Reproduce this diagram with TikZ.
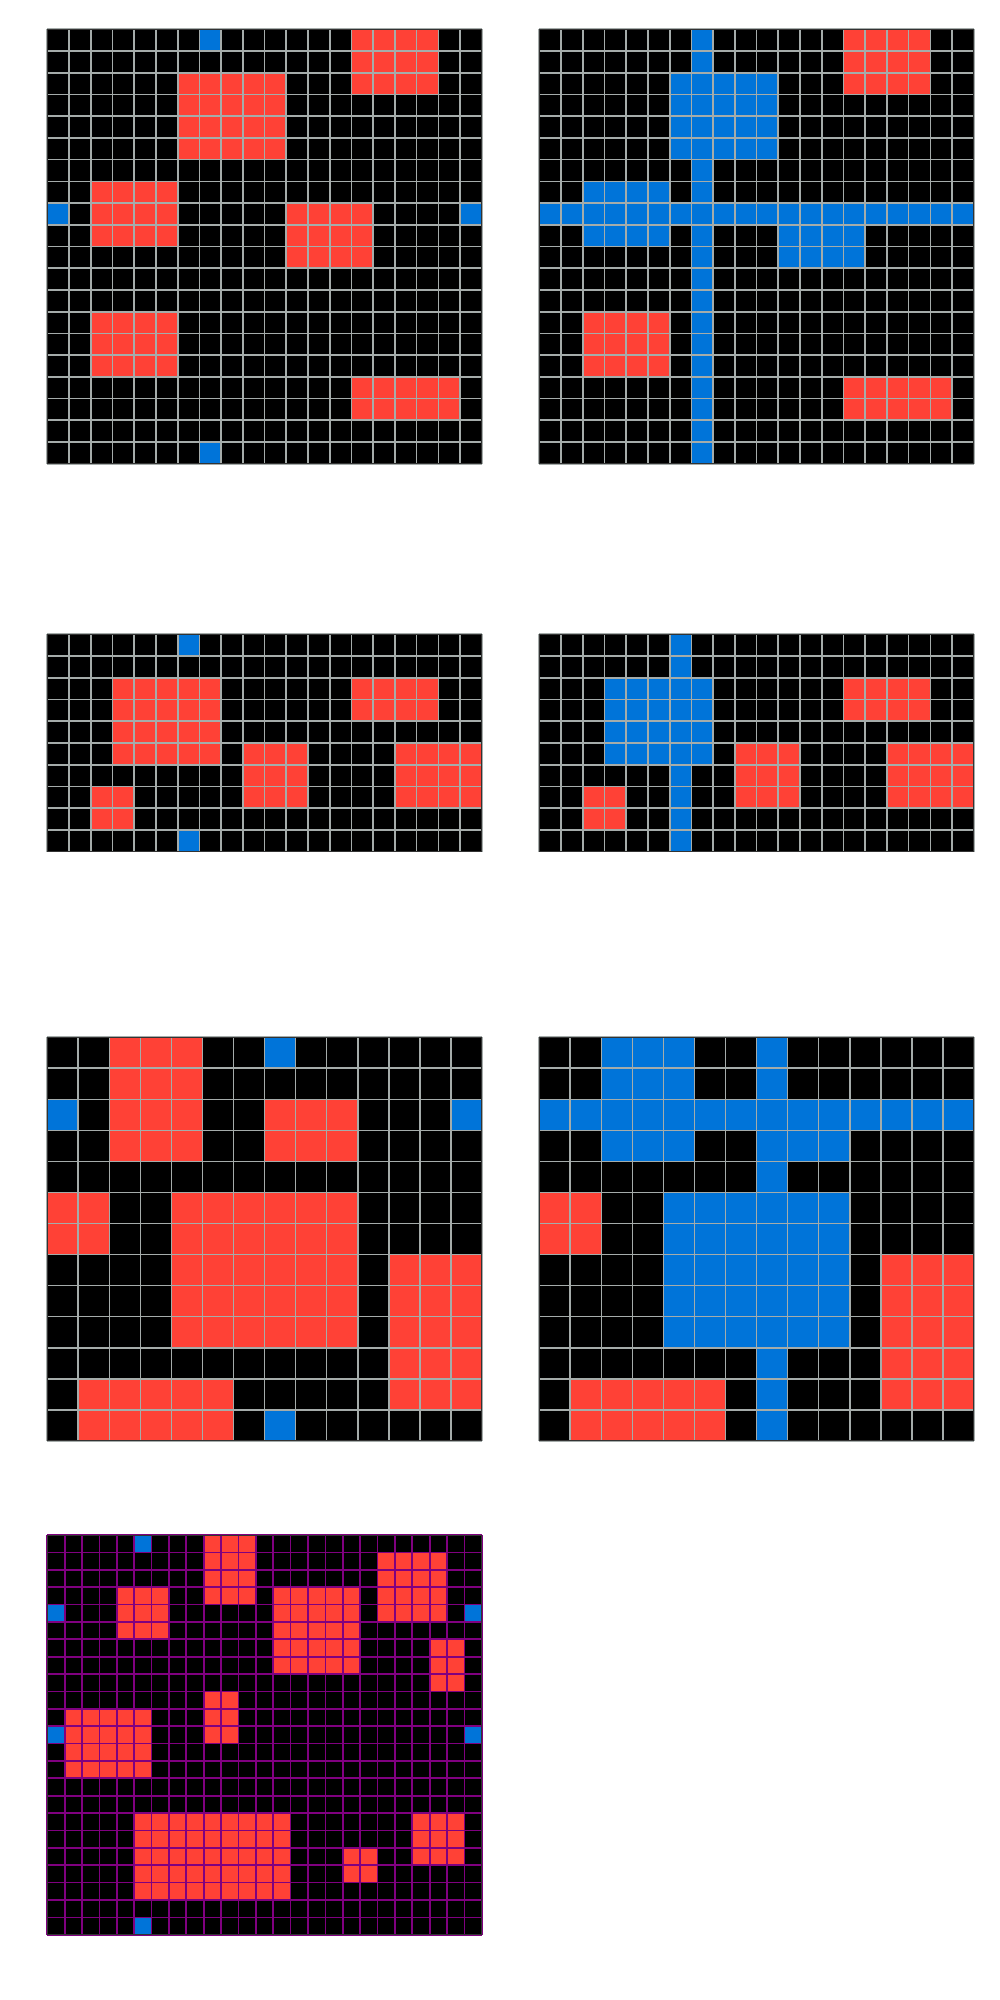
\documentclass[tikz,border=0pt]{standalone}
\usepackage{tikz}
\definecolor{arcblue}{RGB}{0,116,217}
\definecolor{arcred}{RGB}{255,65,54}
\definecolor{arcgray}{RGB}{165,172,170}
\definecolor{arcpurple}{RGB}{128,0,128}
\tikzset{
  gridat/.style n args={3}{shift={(#1,#2)}, x=#3*0.5pt, y=-#3*0.5pt},
  gl/.style={draw=arcgray, line width=0.85pt},
  glp/.style={draw=arcpurple, line width=0.85pt},
  edge/.style={draw=black!80, line width=0.4pt},
  redcell/.style={fill=arcred},
  bluecell/.style={fill=arcblue},
}
\newcommand\arcgridlines[3]{%
  \foreach \i in {0,...,#1} \draw[#3] (\i,0) -- (\i,#2);
  \foreach \j in {0,...,#2} \draw[#3] (0,\j) -- (#1,\j);
  \draw[edge] (0,0) rectangle (#1,#2);
}
\begin{document}
\begin{tikzpicture}[x=0.5pt,y=-0.5pt]
\useasboundingbox[fill=white] (0,0) rectangle (1000,2000);

% Grid 1
\begin{scope}[gridat={47.3}{29.3}{21.725}]
  \fill[black] (0,0) rectangle (20,20);
  \foreach \c/\r/\w/\h in {14/0/4/3, 6/2/5/4, 2/7/4/3, 11/8/4/3, 2/13/4/3, 14/16/5/2}
    \fill[redcell] (\c,\r) rectangle ++(\w,\h);
  \foreach \c/\r/\w/\h in {7/0/1/1, 7/19/1/1, 0/8/1/1, 19/8/1/1}
    \fill[bluecell] (\c,\r) rectangle ++(\w,\h);
  \arcgridlines{20}{20}{gl}
\end{scope}

% Grid 2
\begin{scope}[gridat={539.3}{29.3}{21.725}]
  \fill[black] (0,0) rectangle (20,20);
  \foreach \c/\r/\w/\h in {14/0/4/3, 2/13/4/3, 14/16/5/2}
    \fill[redcell] (\c,\r) rectangle ++(\w,\h);
  \foreach \c/\r/\w/\h in {7/0/1/20, 0/8/20/1, 6/2/5/4, 2/7/4/3, 11/8/4/3}
    \fill[bluecell] (\c,\r) rectangle ++(\w,\h);
  \arcgridlines{20}{20}{gl}
\end{scope}

% Grid 3
\begin{scope}[gridat={47.3}{634.3}{21.725}]
  \fill[black] (0,0) rectangle (20,10);
  \foreach \c/\r/\w/\h in {3/2/5/4, 14/2/4/2, 9/5/3/3, 16/5/4/3, 2/7/2/2}
    \fill[redcell] (\c,\r) rectangle ++(\w,\h);
  \foreach \c/\r/\w/\h in {6/0/1/1, 6/9/1/1}
    \fill[bluecell] (\c,\r) rectangle ++(\w,\h);
  \arcgridlines{20}{10}{gl}
\end{scope}

% Grid 4
\begin{scope}[gridat={539.3}{634.3}{21.725}]
  \fill[black] (0,0) rectangle (20,10);
  \foreach \c/\r/\w/\h in {14/2/4/2, 9/5/3/3, 16/5/4/3, 2/7/2/2}
    \fill[redcell] (\c,\r) rectangle ++(\w,\h);
  \foreach \c/\r/\w/\h in {6/0/1/10, 3/2/5/4}
    \fill[bluecell] (\c,\r) rectangle ++(\w,\h);
  \arcgridlines{20}{10}{gl}
\end{scope}

% Grid 5
\begin{scope}[gridat={47.3}{1037.3}{31.036}]
  \fill[black] (0,0) rectangle (14,13);
  \foreach \c/\r/\w/\h in {2/0/3/4, 7/2/3/2, 0/5/2/2, 4/5/6/5, 11/7/3/5, 1/11/5/2}
    \fill[redcell] (\c,\r) rectangle ++(\w,\h);
  \foreach \c/\r/\w/\h in {7/0/1/1, 7/12/1/1, 0/2/1/1, 13/2/1/1}
    \fill[bluecell] (\c,\r) rectangle ++(\w,\h);
  \arcgridlines{14}{13}{gl}
\end{scope}

% Grid 6
\begin{scope}[gridat={539.3}{1037.3}{31.036}]
  \fill[black] (0,0) rectangle (14,13);
  \foreach \c/\r/\w/\h in {0/5/2/2, 11/7/3/5, 1/11/5/2}
    \fill[redcell] (\c,\r) rectangle ++(\w,\h);
  \foreach \c/\r/\w/\h in {0/2/14/1, 7/0/1/13, 2/0/3/4, 7/2/3/2, 4/5/6/5}
    \fill[bluecell] (\c,\r) rectangle ++(\w,\h);
  \arcgridlines{14}{13}{gl}
\end{scope}

% Grid 7
\begin{scope}[gridat={47.3}{1535}{17.38}]
  \fill[black] (0,0) rectangle (25,23);
  \foreach \c/\r/\w/\h in {9/0/3/4, 19/1/4/4, 4/3/3/3, 13/3/5/5, 22/6/2/3, 9/9/2/3, 1/10/5/4, 5/16/9/5, 21/16/3/3, 17/18/2/2}
    \fill[redcell] (\c,\r) rectangle ++(\w,\h);
  \foreach \c/\r/\w/\h in {5/0/1/1, 5/22/1/1, 0/4/1/1, 24/4/1/1, 0/11/1/1, 24/11/1/1}
    \fill[bluecell] (\c,\r) rectangle ++(\w,\h);
  \arcgridlines{25}{23}{glp}
\end{scope}
\end{tikzpicture}
\end{document}
